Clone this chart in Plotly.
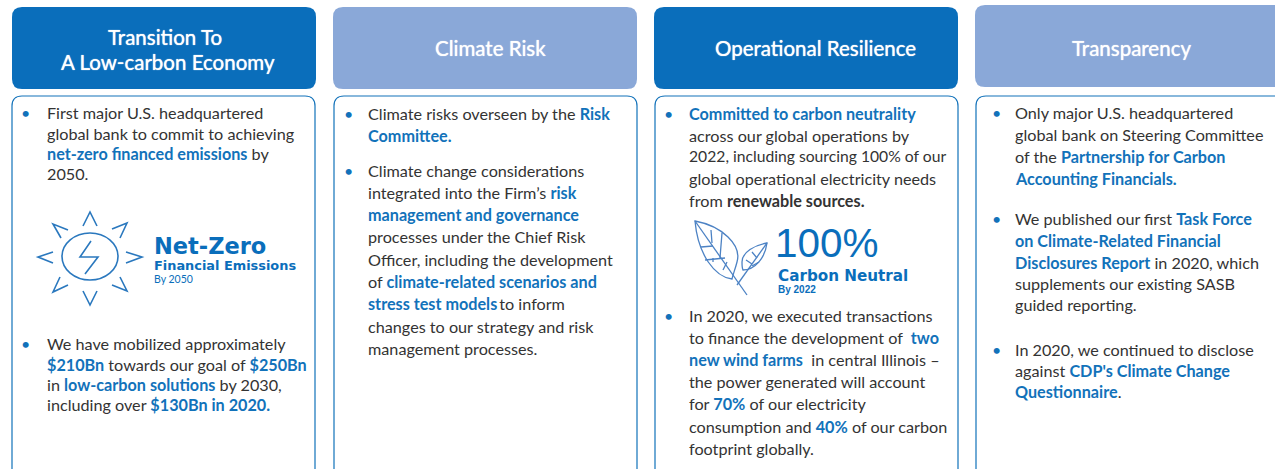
import plotly.graph_objects as go

DARK = "#0A6EBB"
LIGHT = "#8AA8D8"
BLUE = "#1272BA"
INK = "#333333"
BODY_FONT = "Lato"
ICON_FONT = "Liberation Sans"
WIDE_FONT = "DejaVu Sans"


def B(t):
    return f'<b><span style="color:{BLUE}">{t}</span></b>'


def K(t):
    return f"<b>{t}</b>"


header_titles = [
    ["Transition To", "A Low-carbon Economy"],
    ["Climate Risk"],
    ["Operational Resilience"],
    ["Transparency"],
]
header_colors = [DARK, LIGHT, DARK, LIGHT]
header_boxes = [(12, 316, 7, 89), (333, 637, 7, 89), (654, 958, 7, 89), (975, 1290, 5, 87)]
body_boxes = [(12, 315, 96, 490), (334, 637, 96, 490), (655, 958, 96, 490), (976, 1290, 96, 490)]
header_centers = [[165, 167.5], [490.5], [815.5], [1131]]

col1_x = 45.5
col1_lines = [
    (113, "First major U.S. headquartered"),
    (134, "global bank to commit to achieving"),
    (154, B("net-zero financed emissions") + " by"),
    (174, "2050."),
    (344, "We have mobilized approximately"),
    (365, B("$210Bn") + " towards our goal of " + B("$250Bn")),
    (385, "in " + B("low-carbon solutions") + " by 2030,"),
    (405, "including over " + B("$130Bn in 2020.")),
]
col2_x = 366.5
col2_lines = [
    (114, 'Climate risks overseen by the ' + B("Risk")),
    (136, B("Committee.")),
    (171, "Climate change considerations"),
    (193, "integrated into the Firm’s " + B("risk")),
    (215, B("management and governance")),
    (237, "processes under the Chief Risk"),
    (260, "Officer, including the development"),
    (282, "of " + B("climate-related scenarios and")),
    (304, B("stress test models") + "\u2009to inform"),
    (327, "changes to our strategy and risk"),
    (349, "management processes."),
]
col3_x = 687.5
col3_lines = [
    (114, B("Committed to carbon neutrality")),
    (136, "across our global operations by"),
    (157, "2022, including sourcing 100% of our"),
    (179, "global operational electricity needs"),
    (201, "from " + K("renewable sources.")),
    (316, "In 2020, we executed transactions"),
    (338, "to finance the development of  " + B("two")),
    (360, B("new wind farms") + "  in central Illinois –"),
    (382, "the power generated will account"),
    (404, "for " + B("70%") + " of our electricity"),
    (427, "consumption and " + B("40%") + " of our carbon"),
    (449, "footprint globally."),
]
col4_x = 1013.5
col4_lines = [
    (113, "Only major U.S. headquartered"),
    (135, "global bank on Steering Committee"),
    (157, "of the " + B("Partnership for Carbon")),
    (179, B("Accounting Financials.")),
    (219, "We published our first " + B("Task Force")),
    (241, B("on Climate-Related Financial")),
    (263, B("Disclosures Report") + " in 2020, which"),
    (284, "supplements our existing SASB"),
    (305, "guided reporting."),
    (350, "In 2020, we continued to disclose"),
    (371, "against " + B("CDP's Climate Change")),
    (392, B("Questionnaire") + "."),
]
columns = [(col1_x, col1_lines), (col2_x, col2_lines), (col3_x, col3_lines), (col4_x, col4_lines)]

bullet_x = [25, 348, 668, 996]
bullet_y = [[113, 344], [114, 171], [114, 316], [113, 219, 350]]
narrow_lines = {"2022, including sourcing 100% of our": 15.7}


def round_rect(x0, x1, y0, y1, r):
    return (
        f"M{x0+r},{y0} L{x1-r},{y0} Q{x1},{y0} {x1},{y0+r} L{x1},{y1-r} Q{x1},{y1} {x1-r},{y1} "
        f"L{x0+r},{y1} Q{x0},{y1} {x0},{y1-r} L{x0},{y0+r} Q{x0},{y0} {x0+r},{y0} Z"
    )


shapes = []
for (x0, x1, y0, y1), c in zip(header_boxes, header_colors):
    shapes.append(dict(type="path", path=round_rect(x0, x1, y0, y1, 10), fillcolor=c, line=dict(width=0), layer="below"))
for x0, x1, y0, y1 in body_boxes:
    shapes.append(dict(type="path", path=round_rect(x0, x1, y0, y1, 10), fillcolor="white", line=dict(color=BLUE, width=1.2), layer="below"))

ICON = "#2A78BE"
sun_paths = [
    "M91,241 L80,257 L98,257 L85,274",
    "M83,226 L90,212 L97,226",
    "M83,291 L90,305 L97,291",
    "M53,252 L38,257 L53,263",
    "M126,252 L142,257 L126,263",
    "M68,230 L53,224 L61,238",
    "M112,229 L127,223 L120,238",
    "M68,285 L53,292 L60,277",
    "M112,285 L127,291 L120,277",
]
for p in sun_paths:
    shapes.append(dict(type="path", path=p, line=dict(color=ICON, width=1.6)))
shapes.append(dict(type="circle", x0=62, x1=118, y0=233, y1=280, line=dict(color=ICON, width=1.6)))

LEAF = "#4C82C4"
leaf_paths = [
    "M695,221 C722,226 742,245 737,262 C735,270 733,274 732,279 C715,277 698,255 695,221 Z",
    "M695,221 L747,295",
    "M767,243 C755,245 742,252 742,262 C742,266 742,268 743,270 C755,270 765,258 767,243 Z",
    "M767,243 L737,285",
    "M701,247 L713,246", "M705,260 L725,258", "M711,230 L712,243 M722,233 L720,258",
    "M713,258 L713,262 M727,262 L723,270",
    "M752,252 L757,258 M746,260 L752,264 M752,266 L759,262",
]
for p in leaf_paths:
    shapes.append(dict(type="path", path=p, line=dict(color=LEAF, width=1.3)))

annotations = []


def add(x, y, text, size, color=INK, font=BODY_FONT, anchor="left", shadow=None):
    f = dict(family=font, size=size, color=color)
    if shadow:
        f["shadow"] = shadow
    annotations.append(dict(x=x, y=y, xref="x", yref="y", text=text, showarrow=False, xanchor=anchor, yanchor="middle",
                            align=anchor, borderpad=0, font=f))


HEAD_SHADOW = "0 0 1px #ffffff"
for lines, centers in zip(header_titles, header_centers):
    ys = [37, 62] if len(lines) == 2 else [48]
    for t, cx, y in zip(lines, centers, ys):
        add(cx, y, t, 20.5, "white", anchor="center", shadow=HEAD_SHADOW)

for x, lines in columns:
    for y, t in lines:
        add(x, y - 0.7, t, narrow_lines.get(t, 16.2))
for x, ys in zip(bullet_x, bullet_y):
    for y in ys:
        add(x, y - 1, "•", 16, BLUE, anchor="center")

add(153, 246, "<b>Net-Zero</b>", 22.5, DARK, WIDE_FONT)
add(152.5, 265, "<b>Financial Emissions</b>", 12.9, DARK, WIDE_FONT)
add(153, 279, "By 2050", 10.5, DARK, BODY_FONT)
add(773.5, 243, "100%", 40.5, DARK, ICON_FONT)
add(777, 275.5, "<b>Carbon Neutral</b>", 15.2, DARK, WIDE_FONT)
add(777, 289.5, "<b>By 2022</b>", 10, DARK, ICON_FONT)

fig = go.Figure()
fig.update_layout(
    width=1275, height=469, margin=dict(l=0, r=0, t=0, b=0),
    paper_bgcolor="white", plot_bgcolor="white", showlegend=False,
    xaxis=dict(range=[0, 1275], visible=False, fixedrange=True),
    yaxis=dict(range=[469, 0], visible=False, fixedrange=True),
    shapes=shapes, annotations=annotations,
)
fig.write_html("out.html", config=dict(displayModeBar=False),
               post_script="document.body.style.margin='0';document.body.style.overflow='hidden';")
